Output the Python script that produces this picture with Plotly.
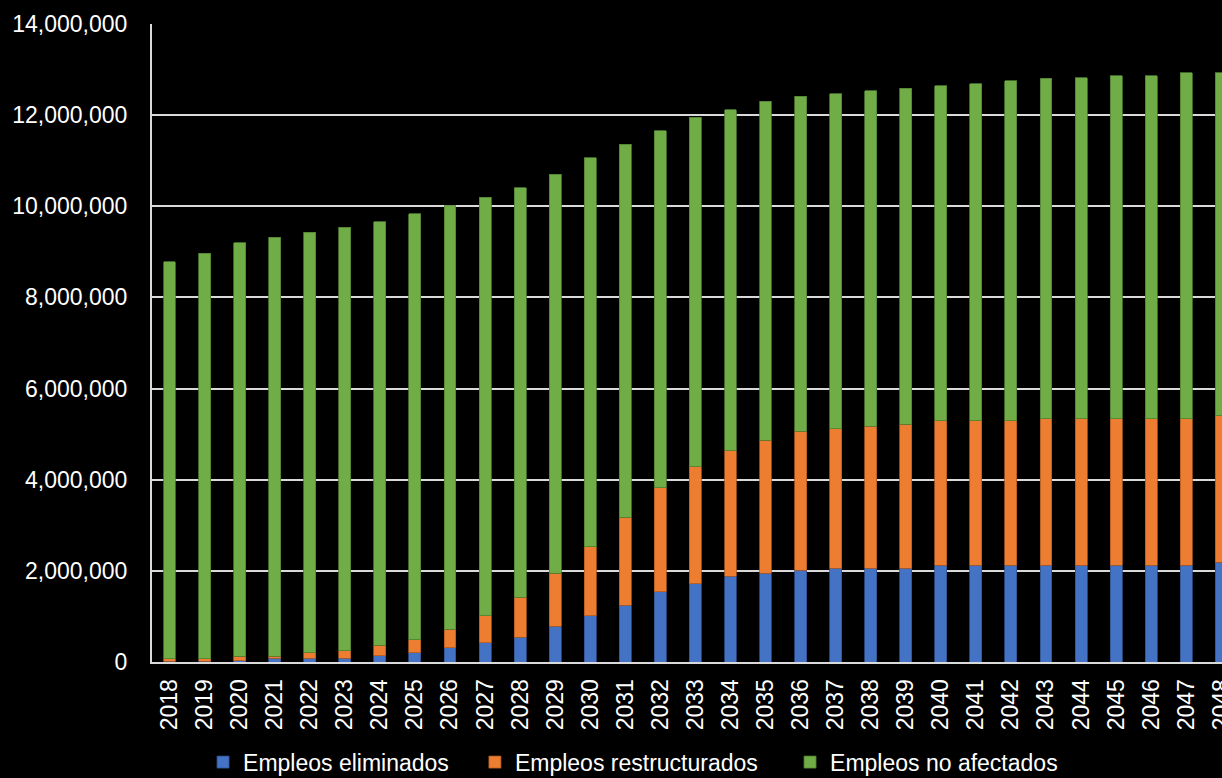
import plotly.graph_objects as go

years = [str(y) for y in range(2018, 2049)]

# Values (number of jobs)
empleos_eliminados = [20000, 20000, 30000, 80000, 80000, 80000, 140000, 200000, 310000, 420000,
                      540000, 780000, 1010000, 1240000, 1540000, 1720000, 1880000, 1950000, 2010000, 2060000,
                      2060000, 2060000, 2120000, 2120000, 2120000, 2120000, 2120000, 2120000, 2120000, 2120000,
                      2190000]
empleos_restructurados = [50000, 50000, 100000, 50000, 120000, 170000, 230000, 290000, 410000, 590000,
                          880000, 1170000, 1520000, 1940000, 2280000, 2570000, 2760000, 2920000, 3050000, 3060000,
                          3110000, 3160000, 3170000, 3170000, 3170000, 3220000, 3220000, 3220000, 3220000, 3220000,
                          3210000]
empleos_no_afectados = [8710000, 8900000, 9070000, 9190000, 9230000, 9290000, 9290000, 9350000, 9290000, 9190000,
                        8990000, 8750000, 8530000, 8180000, 7840000, 7660000, 7480000, 7430000, 7360000, 7350000,
                        7360000, 7370000, 7350000, 7400000, 7460000, 7470000, 7480000, 7520000, 7530000, 7590000,
                        7530000]

series = [
    ("Empleos eliminados", empleos_eliminados, "#4472C4", "#2F528F", "legend"),
    ("Empleos restructurados", empleos_restructurados, "#ED7D31", "#AE5A21", "legend2"),
    ("Empleos no afectados", empleos_no_afectados, "#70AD47", "#507E32", "legend3"),
]

FONT = "Liberation Sans, Arial, sans-serif"
FS = 23

fig = go.Figure()
for name, vals, color, edge, leg in series:
    fig.add_trace(go.Bar(
        x=years, y=vals, name=name, legend=leg,
        marker=dict(color=color, line=dict(color=edge, width=0.8)),
    ))

def legend_at(x):
    return dict(
        orientation="h",
        x=x, xanchor="left",
        y=-0.157, yanchor="middle",
        font=dict(family=FONT, size=FS, color="white"),
        itemwidth=30,
        bgcolor="rgba(0,0,0,0)",
    )

fig.update_layout(
    barmode="stack",
    bargap=0.66,
    width=1222, height=778,
    paper_bgcolor="black",
    plot_bgcolor="black",
    margin=dict(l=152, r=0, t=24, b=116, autoexpand=False),
    font=dict(family=FONT, color="white", size=FS),
    showlegend=True,
    legend=legend_at(0.0477),
    legend2=legend_at(0.3018),
    legend3=legend_at(0.5963),
    xaxis=dict(
        type="category",
        range=[-0.5, 30.02],
        tickangle=-90,
        tickfont=dict(family=FONT, size=FS, color="white"),
        showline=True, linecolor="#d9d9d9", linewidth=2,
        showgrid=False,
        ticks="",
        ticklabelstandoff=6,
        automargin=False,
        fixedrange=True,
    ),
    yaxis=dict(
        range=[0, 14000000],
        dtick=2000000,
        tickformat=",",
        tickfont=dict(family=FONT, size=FS, color="white"),
        showgrid=True, gridcolor="#d9d9d9", gridwidth=1.5,
        showline=True, linecolor="#d9d9d9", linewidth=2,
        zeroline=False,
        ticks="",
        ticklabelstandoff=18,
        automargin=False,
        fixedrange=True,
    ),
)

fig.write_html("out.html", config={"displayModeBar": False},
               post_script="document.body.style.margin='0';document.body.style.background='black';")
